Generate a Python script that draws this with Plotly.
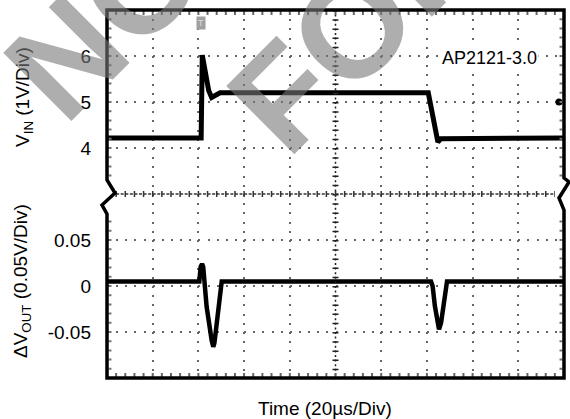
import plotly.graph_objects as go
from plotly.subplots import make_subplots

# ---------------- data ----------------
# time axis: 10 divisions of 20 us
time_ticks = [20, 40, 60, 80, 120, 140, 160, 180]

# V_IN trace (V) vs time (us)
vin_t = [0, 41.2, 41.7, 42.2, 43.3, 44.5, 45.8, 47.0, 49.5, 140.6, 141.5, 142.6, 143.7, 144.8, 146.0, 200]
vin_v = [4.22, 4.22, 6.02, 5.9, 5.55, 5.25, 5.1, 5.13, 5.2, 5.2, 4.95, 4.62, 4.3, 4.13, 4.2, 4.22]

# delta V_OUT trace (V) vs time (us)
dv_t = [0, 40.4, 41.0, 41.6, 42.1, 43.6, 45.8, 46.5, 47.0, 48.0, 49.5, 50.2,
        141.8, 142.5, 143.5, 144.5, 145.3, 146.2, 147.2, 148.2, 148.8, 200]
dv_v = [0.005, 0.005, 0.021, 0.024, 0.021, -0.0225, -0.059, -0.066, -0.062, -0.041, -0.001, 0.005,
        0.005, 0.0, -0.022, -0.04, -0.047, -0.04, -0.022, -0.003, 0.005, 0.005]

# channel level marker
marker_t = [197.8]
marker_v = [5.0]

vin_ticks = [4, 5, 6]
vin_ticktext = ["4", "5", "6"]
dv_ticks = [-0.05, 0, 0.05]
dv_ticktext = ["-0.05", "0", "0.05"]

# ---------------- layout geometry ----------------
W, H = 570, 419
L, T, R, B = 107, 10, 564, 378
PW, PH = R - L, B - T

def px(x):
    return (x - L) / PW

def py(y):
    return (B - y) / PH

FONT = "Arial, Liberation Sans, sans-serif"
GRID = "#666666"

fig = make_subplots(rows=2, cols=1, shared_xaxes=True, vertical_spacing=0)

fig.add_trace(go.Scatter(x=vin_t, y=vin_v, mode="lines",
                         line=dict(color="black", width=5), showlegend=False), row=1, col=1)
fig.add_trace(go.Scatter(x=marker_t, y=marker_v, mode="markers", cliponaxis=False,
                         marker=dict(color="black", size=7, line=dict(width=0)), showlegend=False), row=1, col=1)
fig.add_trace(go.Scatter(x=dv_t, y=dv_v, mode="lines",
                         line=dict(color="black", width=4.5), showlegend=False), row=2, col=1)

xa = dict(range=[0, 200], tickvals=time_ticks, showticklabels=False, ticks="",
          showgrid=True, gridcolor=GRID, gridwidth=2, griddash="2px,7.2px",
          zeroline=False, showline=False)
fig.update_xaxes(**xa)

ya_common = dict(ticks="", showgrid=True, gridcolor=GRID, gridwidth=2, griddash="2px,7.14px",
                 zeroline=False, showline=False, ticklabelstandoff=15,
                 tickfont=dict(family=FONT, size=19, color="black"))
fig.update_yaxes(range=[3, 7], tickvals=vin_ticks, ticktext=vin_ticktext, row=1, col=1, **ya_common)
fig.update_yaxes(range=[-0.1, 0.1], tickvals=dv_ticks, ticktext=dv_ticktext, row=2, col=1, **ya_common)

shapes = []
# centre vertical graticule line
shapes.append(dict(type="line", xref="x", yref="paper", x0=100, x1=100, y0=1, y1=0,
                   line=dict(color="#222222", width=1.5, dash="2px,2.6px"), layer="above"))
shapes.append(dict(type="line", xref="x", yref="paper", x0=100, x1=100, y0=1, y1=0,
                   line=dict(color="#222222", width=6, dash="1.5px,7.7px"), layer="above"))
# centre horizontal graticule line
shapes.append(dict(type="line", xref="paper", yref="paper", x0=px(L + 9.14), x1=px(R - 9.14), y0=0.5, y1=0.5,
                   line=dict(color="#333333", width=1.5, dash="3px,1.57px"), layer="above"))
shapes.append(dict(type="line", xref="paper", yref="paper", x0=px(L + 8.4), x1=px(R - 9.14), y0=0.5, y1=0.5,
                   line=dict(color="#333333", width=6, dash="1.5px,7.64px"), layer="above"))
# minor ticks inside the frame
shapes.append(dict(type="line", xref="paper", yref="paper", x0=px(L - 1), x1=1, y0=py(T + 3), y1=py(T + 3),
                   line=dict(color="#666666", width=4, dash="2px,7.14px")))
shapes.append(dict(type="line", xref="paper", yref="paper", x0=px(L - 1), x1=1, y0=py(B - 3), y1=py(B - 3),
                   line=dict(color="#666666", width=4, dash="2px,7.14px")))
for xx in (L + 3, R - 3):
    shapes.append(dict(type="line", xref="paper", yref="paper", x0=px(xx), x1=px(xx), y0=py(T - 1), y1=py(180),
                       line=dict(color="#777777", width=3, dash="2px,7.2px")))
    shapes.append(dict(type="line", xref="paper", yref="paper", x0=px(xx), x1=px(xx), y0=py(B + 1), y1=py(214),
                       line=dict(color="#777777", width=3, dash="2px,7.2px")))
# frame with break marks
frame = [(L, T), (R, T), (R, 178), (569, 182), (559, 198), (R, 210), (R, B), (L, B),
         (L, 214), (102, 205), (115, 193), (L, 180)]
path = "M " + " L ".join(f"{px(a):.5f},{py(b):.5f}" for a, b in frame) + " Z"
shapes.append(dict(type="path", xref="paper", yref="paper", path=path,
                   line=dict(color="black", width=3.5), layer="above"))

annotations = [
    dict(text="AP2121-3.0", x=px(489.5), y=py(57.5), xref="paper", yref="paper", showarrow=False,
         xanchor="center", yanchor="middle", bgcolor="white",
         font=dict(family=FONT, size=18, color="black")),
    dict(text="V<sub>IN</sub> (1V/Div)", x=px(24), y=py(97), xref="paper", yref="paper",
         showarrow=False, textangle=-90, xanchor="center", yanchor="middle",
         font=dict(family=FONT, size=19, color="black")),
    dict(text="ΔV<sub>OUT</sub> (0.05V/Div)", x=px(22), y=py(281), xref="paper", yref="paper",
         showarrow=False, textangle=-90, xanchor="center", yanchor="middle",
         font=dict(family=FONT, size=19, color="black")),
    dict(text="Time (20µs/Div)", x=px(325), y=py(408), xref="paper", yref="paper",
         showarrow=False, xanchor="center", yanchor="middle",
         font=dict(family=FONT, size=19, color="black")),
    dict(text="T", x=px(201), y=py(23), xref="paper", yref="paper", showarrow=False,
         xanchor="center", yanchor="middle", bgcolor="#a0a0a0", borderpad=1,
         font=dict(family=FONT, size=9, color="#dddddd")),
    # watermark
    dict(text="<b>NOT RECOMMENDED</b>", x=px(547), y=py(-424), xref="paper", yref="paper",
         showarrow=False, textangle=-45, xanchor="center", yanchor="middle",
         font=dict(family=FONT, size=140, color="rgba(120,120,120,0.6)")),
    dict(text="<b>FOR NEW DESIGN</b>", x=px(690), y=py(-311), xref="paper", yref="paper",
         showarrow=False, textangle=-45, xanchor="center", yanchor="middle",
         font=dict(family=FONT, size=140, color="rgba(120,120,120,0.6)")),
]

fig.update_layout(width=W, height=H, margin=dict(l=L, r=W - R, t=T, b=H - B),
                  paper_bgcolor="white", plot_bgcolor="white",
                  shapes=shapes, annotations=annotations, showlegend=False,
                  font=dict(family=FONT, color="black"))

fig.write_html("out.html", config={"displayModeBar": False},
               post_script="document.body.style.margin='0px';document.body.style.padding='0px';")
